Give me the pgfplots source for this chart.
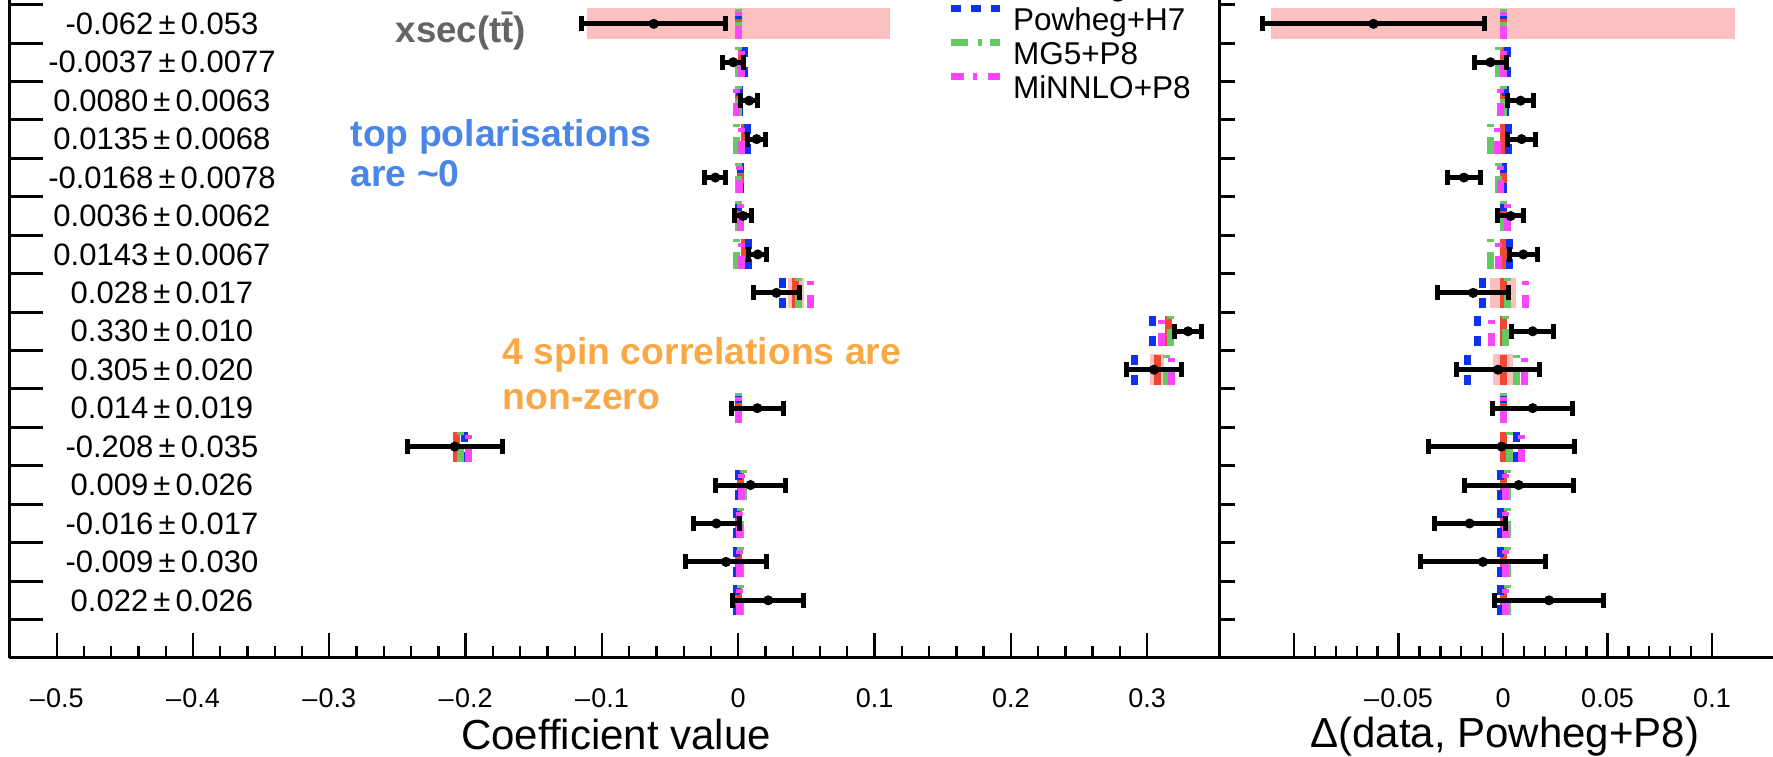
\documentclass[border=0pt]{standalone}
\usepackage{pgfplots}
\pgfplotsset{compat=1.18}
\usepackage{pgfplotstable}
\usepackage{fontspec}
\setmainfont{Liberation Sans}

\definecolor{redP8}{RGB}{240,70,50}
\definecolor{blueH7}{RGB}{15,50,240}
\definecolor{greenMG}{RGB}{100,200,100}
\definecolor{magMiN}{RGB}{250,70,250}
\definecolor{bandpink}{RGB}{252,192,192}
\definecolor{annGray}{RGB}{100,100,100}
\definecolor{annBlue}{RGB}{74,134,232}
\definecolor{annOrange}{RGB}{250,168,70}

% y: row position (16 = top); val, err: measured coefficient; d: data - Powheg+P8
% pwg: Powheg+P8 prediction; dH, dMG, dMiN: other generators minus Powheg+P8
\pgfplotstableread{
y   val      err     d        pwg      dH       dMG      dMiN
16  -0.062   0.053   -0.062   0.0      0.0      0.0      0.0
15  -0.0037  0.0077  -0.006   0.0023   0.002    -0.002   0.0
14  0.0080   0.0063  0.0084   0.0      0.001    0.0      -0.001
13  0.0135   0.0068  0.0089   0.0046   0.0025   -0.006   -0.0025
12  -0.0168  0.0078  -0.0187  0.002    0.0      -0.002   -0.001
11  0.0036   0.0062  0.0037   0.0      0.0      0.0      0.002
10  0.0143   0.0067  0.0097   0.0046   0.003    -0.006   -0.002
9   0.028    0.017   -0.0143  0.0423   -0.0096  0.002    0.0108
8   0.330    0.010   0.0142   0.316    -0.012   0.001    -0.0053
7   0.305    0.020   -0.0024  0.3074   -0.017   0.0066   0.0103
6   0.014    0.019   0.0142   0.0      0.0      0.0      0.0
5   -0.208   0.035   -0.0007  -0.207   0.0065   0.003    0.009
4   0.009    0.026   0.0075   0.0015   -0.001   0.002    0.001
3   -0.016   0.017   -0.016   0.0      -0.001   0.002    0.001
2   -0.009   0.030   -0.0096  0.0      -0.001   0.002    0.001
1   0.022    0.026   0.022    0.0      -0.001   0.002    0.001
}\coef

% Powheg+P8 uncertainty bands: centre c (left panel), z (right panel), half-width w
\pgfplotstableread{
y   c       z    w
16  0.0     0.0  0.111
9   0.0423  0.0  0.006
7   0.3074  0.0  0.005
}\bands

\pgfplotsset{
  common/.style={
    scale only axis, height=197.4pt, ymin=-0.5, ymax=16.62,
    enlargelimits=false, clip=true,
    axis x line=bottom, axis y line=left,
    axis line style={-, line width=0.9pt, black},
    x axis line style={-}, y axis line style={-},
    tick align=inside,
    major tick length=7.5pt, minor tick length=3.6pt,
    tick style={black, line width=0.7pt},
    ytick=\empty,
    extra y ticks={0.5,1.5,...,16.5},
    extra y tick labels={},
    xticklabel style={font=\fontsize{8.1}{9}\selectfont, anchor=base, yshift=-15pt},
    xlabel style={font=\fontsize{12.6}{14}\selectfont, anchor=base},
  },
  pred/.style={quiver={u=0,v=0.78}, no markers, line width=2.1pt, forget plot},
  pP8/.style={pred, draw=redP8},
  pH7/.style={pred, draw=blueH7, dash pattern=on 3pt off 3pt},
  pMG/.style={pred, draw=greenMG, dash pattern=on 5.1pt off 3pt on 1.2pt off 2.4pt},
  pMiN/.style={pred, draw=magMiN, dash pattern=on 3.9pt off 2.85pt on 1.2pt off 3.3pt},
  band/.style={draw=none, no markers, forget plot,
    error bars/.cd, x dir=both, x explicit, error mark=none,
    error bar style={draw=bandpink, line width=9.2pt}},
  datapts/.style={only marks, mark=*, mark size=1.3pt, black, forget plot,
    mark options={fill=black, draw=black},
    error bars/.cd, x dir=both, x explicit,
    error bar style={line width=1.5pt, black},
    error mark options={rotate=90, line width=1.5pt, mark size=2.25pt, black}},
}

\newcommand{\rl}[2]{\node[font=\fontsize{9.3}{11}\selectfont, anchor=center] at (axis cs:-0.4228,#1) {#2};}

\begin{document}
\begin{tikzpicture}
% ---------------- left panel ----------------
\begin{axis}[common,
  at={(2.7pt,29.7pt)}, anchor=south west,
  width=363pt, xmin=-0.535, xmax=0.3527,
  xtick={-0.5,-0.4,-0.3,-0.2,-0.1,0,0.1,0.2,0.3},
  xticklabels={–\kern0.4pt0.5,–\kern0.4pt0.4,–\kern0.4pt0.3,–\kern0.4pt0.2,–\kern0.4pt0.1,0,0.1,0.2,0.3},
  minor x tick num=4,
  extra y tick style={major tick length=10.2pt, grid=none, tick style={line width=0.9pt, black}},
  xlabel={Coefficient value},
  xlabel style={at={(axis description cs:0.5017,0)}, yshift=-27.6pt},
  legend style={at={(axis description cs:0.7752,1.049)}, anchor=north west,
    draw=none, fill=none, inner sep=0pt, outer sep=0pt, row sep=0pt, column sep=3pt,
    font=\fontsize{9.45}{10}\selectfont,
    nodes={inner sep=0pt, text height=8.4pt, text depth=1.9pt}},
  legend cell align=left,
  legend image code/.code={\draw[#1] (0pt,3.3pt) -- (14.7pt,3.3pt);},
]
\addplot[band] table[x=c, y=y, x error=w] {\bands};
\addplot[pP8]  table[x expr=\thisrow{pwg}, y expr=\thisrow{y}-0.39] {\coef};
\addplot[pH7]  table[x expr=\thisrow{pwg}+\thisrow{dH}, y expr=\thisrow{y}-0.39] {\coef};
\addplot[pMG]  table[x expr=\thisrow{pwg}+\thisrow{dMG}, y expr=\thisrow{y}-0.39] {\coef};
\addplot[pMiN] table[x expr=\thisrow{pwg}+\thisrow{dMiN}, y expr=\thisrow{y}-0.39] {\coef};
\addplot[datapts] table[x=val, y=y, x error=err] {\coef};

\addlegendimage{redP8, line width=2.1pt}
\addlegendentry{Powheg+P8}
\addlegendimage{blueH7, line width=2.1pt, dash pattern=on 3pt off 3pt}
\addlegendentry{Powheg+H7}
\addlegendimage{greenMG, line width=2.1pt, dash pattern=on 5.1pt off 3pt on 1.2pt off 2.4pt}
\addlegendentry{MG5+P8}
\addlegendimage{magMiN, line width=2.1pt, dash pattern=on 3.9pt off 2.85pt on 1.2pt off 3.3pt}
\addlegendentry{MiNNLO+P8}

\rl{16}{-0.062\,±\,0.053}
\rl{15}{-0.0037\,±\,0.0077}
\rl{14}{0.0080\,±\,0.0063}
\rl{13}{0.0135\,±\,0.0068}
\rl{12}{-0.0168\,±\,0.0078}
\rl{11}{0.0036\,±\,0.0062}
\rl{10}{0.0143\,±\,0.0067}
\rl{9}{0.028\,±\,0.017}
\rl{8}{0.330\,±\,0.010}
\rl{7}{0.305\,±\,0.020}
\rl{6}{0.014\,±\,0.019}
\rl{5}{-0.208\,±\,0.035}
\rl{4}{0.009\,±\,0.026}
\rl{3}{-0.016\,±\,0.017}
\rl{2}{-0.009\,±\,0.030}
\rl{1}{0.022\,±\,0.026}

\node[anchor=base west, font=\bfseries\fontsize{11}{13}\selectfont, text=annGray, inner sep=0pt]
  at (axis cs:-0.2518,15.525) {xsec(t\=t)};
\node[anchor=base west, font=\bfseries\fontsize{11.2}{13}\selectfont, text=annBlue, inner sep=0pt]
  at (axis cs:-0.2848,12.82) {top polarisations};
\node[anchor=base west, font=\bfseries\fontsize{11.2}{13}\selectfont, text=annBlue, inner sep=0pt]
  at (axis cs:-0.2848,11.76) {are \textasciitilde0};
\node[anchor=base west, font=\bfseries\fontsize{11.2}{13}\selectfont, text=annOrange, inner sep=0pt]
  at (axis cs:-0.1733,7.125) {4 spin correlations are};
\node[anchor=base west, font=\bfseries\fontsize{11.2}{13}\selectfont, text=annOrange, inner sep=0pt]
  at (axis cs:-0.1733,5.955) {non-zero};
\end{axis}

% ---------------- right panel ----------------
\begin{axis}[common,
  at={(365.7pt,29.7pt)}, anchor=south west,
  width=166.2pt, xmin=-0.1359, xmax=0.1292,
  xtick={-0.1,-0.05,0,0.05,0.1},
  xticklabels={,–\kern0.4pt0.05,0,0.05,0.1},
  minor x tick num=4,
  extra y tick style={major tick length=4.8pt, grid=none, tick style={line width=0.9pt, black}},
  xlabel={Δ(data, Powheg+P8)},
  xlabel style={at={(axis description cs:0.516,0)}, yshift=-27pt},
]
\addplot[band] table[x=z, y=y, x error=w] {\bands};
\addplot[pP8]  table[x expr=0, y expr=\thisrow{y}-0.39] {\coef};
\addplot[pH7]  table[x expr=\thisrow{dH}, y expr=\thisrow{y}-0.39] {\coef};
\addplot[pMG]  table[x expr=\thisrow{dMG}, y expr=\thisrow{y}-0.39] {\coef};
\addplot[pMiN] table[x expr=\thisrow{dMiN}, y expr=\thisrow{y}-0.39] {\coef};
\addplot[datapts] table[x=d, y=y, x error=err] {\coef};
\end{axis}

\pgfresetboundingbox
\useasboundingbox (0,0) rectangle (531.9pt,227.1pt);
\end{tikzpicture}
\end{document}
